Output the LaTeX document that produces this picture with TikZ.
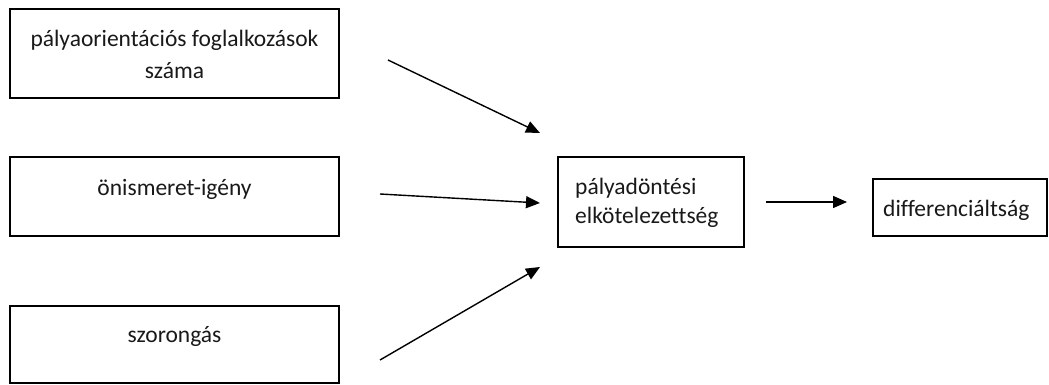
\documentclass[tikz,border=0pt]{standalone}
\usepackage{fontspec}
\setmainfont{Carlito}[Ligatures={NoCommon}]
\usetikzlibrary{arrows.meta}
\tikzset{
  box/.style={draw, line width=1.3pt, inner sep=0pt, fill=white},
  lbl/.style={inner sep=0pt, font=\fontsize{23.5}{28}\selectfont, text=black!90},
  arr/.style={line width=1.4pt, -{Triangle[length=14pt,width=12pt]}},
}
\begin{document}
\begin{tikzpicture}[x=1pt,y=-1pt]
\useasboundingbox (0,0) rectangle (1049,385);
% boxes
\node[box, minimum width=329pt, minimum height=89pt] (b1) at (174.5,53.5) {};
\node[box, minimum width=329pt, minimum height=79pt] (b2) at (174.5,196.5) {};
\node[box, minimum width=329pt, minimum height=77pt] (b3) at (174.5,344.5) {};
\node[box, minimum width=186pt, minimum height=90pt] (bc) at (651,202) {};
\node[box, minimum width=174pt, minimum height=57pt] (br) at (960,207.5) {};
% texts
\node[lbl, anchor=base] (t1a) at (174.5,47) {pályaorientációs foglalkozások};
\node[lbl, anchor=base] (t1b) at (174.5,79) {száma};
\node[lbl, anchor=base] (t2) at (174.5,195) {önismeret-igény};
\node[lbl, anchor=base] (t3) at (174.5,342) {szorongás};
\node[lbl, anchor=base west] (tca) at (575,194) {pályadöntési};
\node[lbl, anchor=base west] (tcb) at (575,223) {elkötelezettség};
\node[lbl, anchor=base west] (tr) at (883,216) {differenciáltság};
% arrow endpoints
\coordinate (s1) at (388,60);
\coordinate (e1) at (540,133);
\coordinate (s2) at (380,194);
\coordinate (e2) at (540,203);
\coordinate (s3) at (380,360);
\coordinate (e3) at (540,267);
\coordinate (s4) at (766,202);
\coordinate (e4) at (847,202);
\draw[arr] (s1) -- (e1);
\draw[arr] (s2) -- (e2);
\draw[arr] (s3) -- (e3);
\draw[arr] (s4) -- (e4);
\end{tikzpicture}
\end{document}
